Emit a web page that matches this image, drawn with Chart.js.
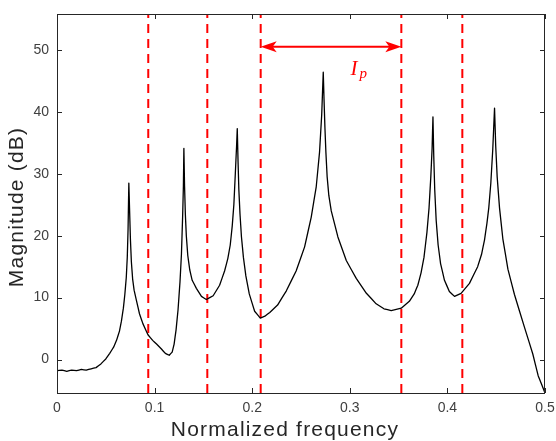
<!DOCTYPE html>
<html>
<head>
<meta charset="utf-8">
<script src="https://cdn.jsdelivr.net/npm/chart.js@4.4.0/dist/chart.umd.min.js"></script>
<style>
  html, body { margin: 0; padding: 0; background: #fff; }
  #wrap { width: 556px; height: 441px; }
</style>
</head>
<body>
<div id="wrap"><canvas id="chart"></canvas></div>
<script>
// spectrum
const freq = [
  0.000, 0.005, 0.010, 0.015, 0.020, 0.025, 0.030, 0.035, 0.040, 0.045,
  0.050, 0.054, 0.058, 0.061, 0.064, 0.066, 0.068, 0.0695, 0.0710, 0.0720,
  0.0728, 0.0736, 0.0744, 0.0752, 0.0762, 0.0775, 0.0790, 0.0813, 0.0845, 0.0880,
  0.0932, 0.0980, 0.1020, 0.1070, 0.1110, 0.1150, 0.1180, 0.1200, 0.1220, 0.1240,
  0.1260, 0.1275, 0.1287, 0.1295, 0.1300, 0.1307, 0.1315, 0.1325, 0.1340, 0.1360,
  0.1385, 0.1428, 0.1480, 0.1530, 0.1600, 0.1666, 0.1717, 0.1750, 0.1775, 0.1795,
  0.1812, 0.1827, 0.1840, 0.1847, 0.1855, 0.1863, 0.1875, 0.1890, 0.1910, 0.1935,
  0.1970, 0.2025, 0.2083, 0.2130, 0.2180, 0.2260, 0.2350, 0.2450, 0.2537, 0.2605,
  0.2656, 0.2690, 0.2712, 0.2728, 0.2736, 0.2745, 0.2755, 0.2768, 0.2785, 0.2810,
  0.2878, 0.2964, 0.3066, 0.3170, 0.3270, 0.3350, 0.3424, 0.3527, 0.3610, 0.3660,
  0.3697, 0.3730, 0.3760, 0.3790, 0.3812, 0.3830, 0.3843, 0.3852, 0.3860, 0.3870,
  0.3885, 0.3905, 0.3930, 0.3970, 0.4020, 0.4073, 0.4140, 0.4226, 0.4310, 0.4350,
  0.4380, 0.4405, 0.4424, 0.4445, 0.4465, 0.4483, 0.4495, 0.4510, 0.4534, 0.4568,
  0.4620, 0.4687, 0.4790, 0.4875, 0.4930, 0.5000
];
const mag = [
  -1.8, -1.7, -1.9, -1.7, -1.8, -1.6, -1.7, -1.5, -1.3, -0.7,
  0.1, 1.0, 2.0, 3.1, 4.6, 6.2, 8.3, 10.5, 13.3, 16.5,
  21.0, 28.5, 24.0, 19.5, 15.8, 13.0, 11.2, 9.6, 7.4, 5.8,
  4.0, 3.1, 2.5, 1.7, 1.0, 0.7, 1.2, 2.5, 4.8, 8.0,
  12.5, 17.0, 23.0, 28.0, 34.1, 28.0, 23.5, 20.0, 16.8, 14.5,
  12.8, 11.5, 10.2, 9.7, 10.3, 12.0, 14.3, 16.3, 18.5, 21.5,
  25.0, 30.0, 34.5, 37.3, 32.0, 27.5, 23.5, 19.8, 16.5, 13.5,
  10.6, 7.8, 6.7, 7.0, 7.6, 8.8, 11.1, 14.3, 18.2, 23.0,
  27.9, 33.5, 39.5, 46.4, 42.0, 37.5, 33.5, 29.5, 26.5, 24.0,
  19.8, 16.0, 13.1, 10.7, 9.0, 8.2, 7.9, 8.3, 9.4, 10.6,
  12.0, 14.0, 16.5, 20.5, 24.5, 29.5, 34.0, 39.2, 33.0, 27.5,
  22.5, 18.5, 15.5, 12.8, 11.0, 10.2, 10.7, 12.3, 15.0, 17.0,
  19.3, 22.0, 24.5, 28.5, 34.0, 40.6, 34.5, 29.5, 24.5, 19.5,
  14.6, 10.5, 5.2, 0.9, -2.6, -5.4
];

// red dashed band edges
const markerFreqs = [0.0935, 0.154, 0.2087, 0.3528, 0.4153];

const xTicks = [0, 0.1, 0.2, 0.3, 0.4, 0.5];
const yTicks = [0, 10, 20, 30, 40, 50];
const xRange = [0, 0.5];
const yRange = [-5.4, 55.8];

// I_p annotation: arrow between markers 3 and 4
const arrowSpan = [0.2087, 0.3528];
const arrowLevel = 50.5;
const labelAt = [0.3089, 46.2];

const AXIS_COLOR = '#262626';
const TICK_COLOR = '#404040';
const RED = '#ff0000';
const SANS = '"Liberation Sans", Arial, sans-serif';

const markerSets = markerFreqs.map(f => ({
  data: [{ x: f, y: yRange[0] }, { x: f, y: yRange[1] }],
  borderColor: RED,
  borderWidth: 2,
  borderDash: [9, 6],
  pointRadius: 0,
  fill: false
}));

// box, inward ticks, arrow, label and axis titles
const decor = {
  id: 'decor',
  afterDatasetsDraw(chart) {
    const { ctx, chartArea: a, scales: { x, y } } = chart;
    ctx.save();

    ctx.strokeStyle = AXIS_COLOR;
    ctx.lineWidth = 1;
    ctx.strokeRect(a.left + 0.5, a.top + 0.5, a.right - a.left - 1, a.bottom - a.top);

    ctx.beginPath();
    xTicks.forEach(v => {
      const px = Math.round(x.getPixelForValue(v)) + 0.5;
      ctx.moveTo(px, a.bottom); ctx.lineTo(px, a.bottom - 5);
      ctx.moveTo(px, a.top); ctx.lineTo(px, a.top + 5);
    });
    yTicks.forEach(v => {
      const py = Math.round(y.getPixelForValue(v)) + 0.5;
      ctx.moveTo(a.left, py); ctx.lineTo(a.left + 5, py);
      ctx.moveTo(a.right, py); ctx.lineTo(a.right - 5, py);
    });
    ctx.stroke();

    // double arrow
    const x0 = x.getPixelForValue(arrowSpan[0]);
    const x1 = x.getPixelForValue(arrowSpan[1]);
    const ay = y.getPixelForValue(arrowLevel);
    ctx.strokeStyle = RED;
    ctx.fillStyle = RED;
    ctx.lineWidth = 2;
    ctx.beginPath();
    ctx.moveTo(x0 + 8, ay); ctx.lineTo(x1 - 8, ay);
    ctx.stroke();
    [[x0, 1], [x1, -1]].forEach(([tip, dir]) => {
      ctx.beginPath();
      ctx.moveTo(tip, ay);
      ctx.lineTo(tip + dir * 16, ay - 5.5);
      ctx.lineTo(tip + dir * 12, ay);
      ctx.lineTo(tip + dir * 16, ay + 5.5);
      ctx.closePath();
      ctx.fill();
    });

    // I_p
    const lx = x.getPixelForValue(labelAt[0]);
    const ly = y.getPixelForValue(labelAt[1]);
    ctx.textBaseline = 'alphabetic';
    ctx.textAlign = 'left';
    ctx.font = 'italic 21px "Liberation Serif", serif';
    ctx.fillText('I', lx - 8, ly + 2);
    ctx.font = 'italic 15px "Liberation Serif", serif';
    ctx.fillText('p', lx + 1, ly + 5);

    // axis titles
    ctx.fillStyle = AXIS_COLOR;
    ctx.font = '21px ' + SANS;
    if ('letterSpacing' in ctx) ctx.letterSpacing = '1.2px';
    ctx.textAlign = 'center';
    ctx.textBaseline = 'alphabetic';
    ctx.fillText('Normalized frequency', 285, 436);
    ctx.translate(23, 207);
    ctx.rotate(-Math.PI / 2);
    ctx.fillText('Magnitude (dB)', 0, 0);

    ctx.restore();
  }
};

new Chart(document.getElementById('chart'), {
  type: 'line',
  data: {
    datasets: [
      {
        data: freq.map((f, i) => ({ x: f, y: mag[i] })),
        borderColor: '#000',
        borderWidth: 1.3,
        borderJoinStyle: 'round',
        pointRadius: 0,
        // tiny tension keeps the segments straight but avoids the per-pixel fast path
        tension: 0.0001,
        fill: false
      },
      ...markerSets
    ]
  },
  options: {
    responsive: true,
    maintainAspectRatio: false,
    animation: false,
    layout: { padding: { top: 14, right: 2, left: 0, bottom: 0 } },
    plugins: { legend: { display: false }, tooltip: { enabled: false } },
    scales: {
      x: {
        type: 'linear',
        min: xRange[0],
        max: xRange[1],
        afterBuildTicks: s => { s.ticks = xTicks.map(v => ({ value: v })); },
        afterFit: s => { s.height = 48; s.paddingRight = 11; s.paddingLeft = 0; },
        grid: { display: false, drawTicks: false },
        border: { display: false },
        ticks: {
          color: TICK_COLOR,
          font: { family: SANS, size: 14 },
          padding: 7,
          maxRotation: 0,
          callback: v => String(v)
        }
      },
      y: {
        type: 'linear',
        min: yRange[0],
        max: yRange[1],
        afterBuildTicks: s => { s.ticks = yTicks.map(v => ({ value: v })); },
        afterFit: s => { s.width = 57; s.paddingTop = 0; s.paddingBottom = 0; },
        grid: { display: false, drawTicks: false },
        border: { display: false },
        ticks: {
          color: TICK_COLOR,
          font: { family: SANS, size: 14 },
          padding: 8,
          callback: v => String(v)
        }
      }
    }
  },
  plugins: [decor]
});
</script>
</body>
</html>
